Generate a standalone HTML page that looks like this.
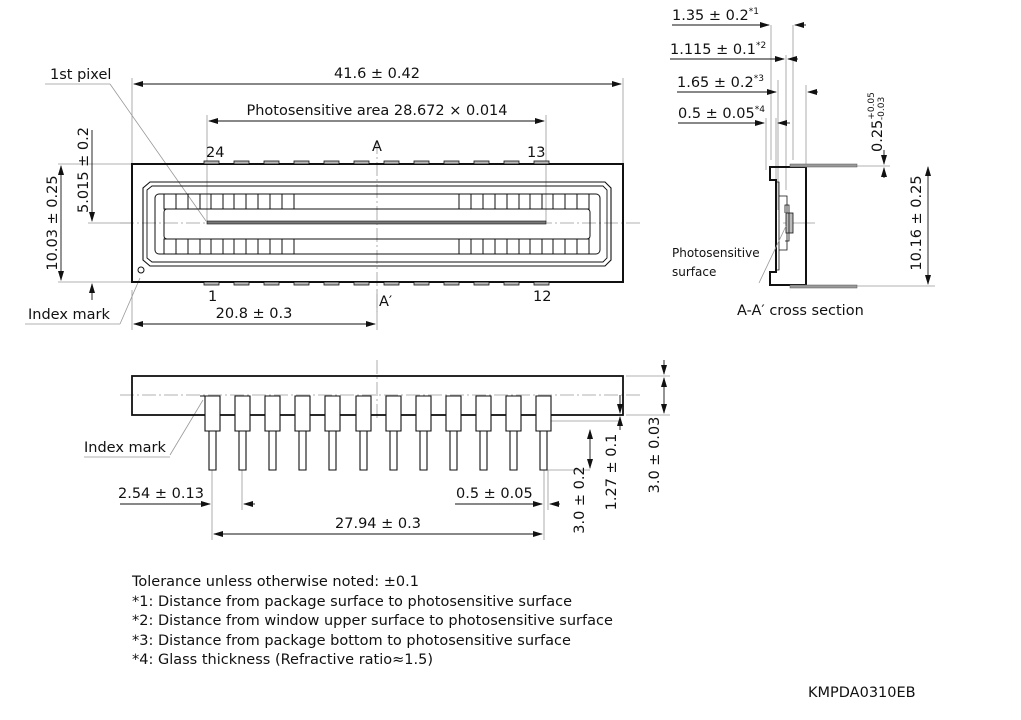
<!DOCTYPE html><html><head><style>body{margin:0;background:#fff}svg{display:block}text{font-family:"DejaVu Sans","Liberation Sans",sans-serif;font-size:14.5px;fill:#111}</style></head><body>
<svg width="1021" height="720" viewBox="0 0 1021 720">
<defs><marker id="a" markerWidth="10" markerHeight="6" refX="9" refY="3" orient="auto-start-reverse" markerUnits="userSpaceOnUse"><path d="M0,0L10,3L0,6z" fill="#111"/></marker></defs>
<g stroke="#999" stroke-width="0.8" fill="none">
<path d="M132 78V164M623 78V164M207 115V222M546 115V222M58 164H132M58 282H132M88 223H132M132 290V330M377 290V330"/>
<path d="M110 84L206 221M120 324L140 278M45 84H110M25 324H120"/>
<path d="M120 223H640M377 140V312" stroke-dasharray="14 3 2 3"/>
<path d="M771 25V160M793 25V160M786 55V190M778 80V210M806 85V165M766 118V170M776 118V180M857 166H890M857 286H935M783 223H815"/>
<path d="M626 376H670M626 415H670M545 421H620M545 470H590M212 470V540M242 470V510M544 470V540M548 470V510"/>
<path d="M120 395H640M377 360V420" stroke-dasharray="14 3 2 3"/>
<path d="M170 455L203 400M84 457H170"/>
</g>
<g stroke="#111" stroke-width="0.9" fill="none">
<line x1="134" y1="84" x2="621" y2="84" marker-start="url(#a)" marker-end="url(#a)"/>
<line x1="209" y1="121" x2="544" y2="121" marker-start="url(#a)" marker-end="url(#a)"/>
<line x1="61" y1="166" x2="61" y2="280" marker-start="url(#a)" marker-end="url(#a)"/>
<line x1="92" y1="130" x2="92" y2="221" marker-end="url(#a)"/>
<line x1="92" y1="300" x2="92" y2="284" marker-end="url(#a)"/>
<line x1="134" y1="324" x2="375" y2="324" marker-start="url(#a)" marker-end="url(#a)"/>
<line x1="672" y1="25" x2="769" y2="25" marker-end="url(#a)"/><line x1="806" y1="25" x2="795" y2="25" marker-end="url(#a)"/>
<line x1="670" y1="59" x2="784" y2="59" marker-end="url(#a)"/><line x1="798" y1="59" x2="788" y2="59" marker-end="url(#a)"/>
<line x1="677" y1="92" x2="776" y2="92" marker-end="url(#a)"/><line x1="818" y1="92" x2="808" y2="92" marker-end="url(#a)"/>
<line x1="678" y1="123" x2="764" y2="123" marker-end="url(#a)"/><line x1="790" y1="123" x2="778" y2="123" marker-end="url(#a)"/>
<line x1="884" y1="150" x2="884" y2="164" marker-end="url(#a)"/><line x1="884" y1="178" x2="884" y2="168" marker-end="url(#a)"/>
<line x1="928" y1="167" x2="928" y2="284" marker-start="url(#a)" marker-end="url(#a)"/>
<line x1="664" y1="378" x2="664" y2="413" marker-start="url(#a)" marker-end="url(#a)"/>
<line x1="664" y1="360" x2="664" y2="374" marker-end="url(#a)"/>
<line x1="620" y1="395" x2="620" y2="413" marker-end="url(#a)"/>
<line x1="620" y1="430" x2="620" y2="417" marker-end="url(#a)"/>
<line x1="590" y1="430" x2="590" y2="468" marker-start="url(#a)" marker-end="url(#a)"/>
<line x1="120" y1="504" x2="210" y2="504" marker-end="url(#a)"/><line x1="255" y1="504" x2="244" y2="504" marker-end="url(#a)"/>
<line x1="455" y1="504" x2="542" y2="504" marker-end="url(#a)"/><line x1="560" y1="504" x2="550" y2="504" marker-end="url(#a)"/>
<line x1="214" y1="534" x2="542" y2="534" marker-start="url(#a)" marker-end="url(#a)"/>
</g>
<g stroke="#111" fill="none">
<rect x="132" y="164" width="491" height="118" stroke-width="2"/>
<path d="M150 182H605L611 188V260L605 266H150L143 260V188Z" stroke-width="1.1"/>
<path d="M152 186H603L607 190V258L603 262H152L147 258V190Z" stroke-width="0.9"/>
<rect x="155" y="194" width="445" height="60" rx="4" stroke-width="1"/>
<rect x="164" y="209" width="426" height="30" rx="3" stroke-width="1"/>
<circle cx="141" cy="270" r="3" stroke-width="1"/>
</g>
<rect x="207" y="221" width="339" height="3" fill="#777" stroke="#111" stroke-width="0.6"/>
<g stroke="#111" fill="none" stroke-width="1">
<path d="M164 194h12v15h-12zM188 194h12v15h-12zM211 194h12v15h-12zM234 194h12v15h-12zM258 194h12v15h-12zM282 194h12v15h-12zM459 194h12v15h-12zM483 194h12v15h-12zM507 194h12v15h-12zM530 194h12v15h-12zM553 194h12v15h-12zM577 194h12v15h-12z"/>
<path d="M164 239h12v15h-12zM188 239h12v15h-12zM211 239h12v15h-12zM234 239h12v15h-12zM258 239h12v15h-12zM282 239h12v15h-12zM459 239h12v15h-12zM483 239h12v15h-12zM507 239h12v15h-12zM530 239h12v15h-12zM553 239h12v15h-12zM577 239h12v15h-12z"/>
</g>
<g fill="#bbb" stroke="#111" stroke-width="0.8">
<rect x="204" y="161" width="15" height="3"/><rect x="234" y="161" width="15" height="3"/><rect x="264" y="161" width="15" height="3"/><rect x="294" y="161" width="15" height="3"/><rect x="324" y="161" width="15" height="3"/><rect x="354" y="161" width="15" height="3"/><rect x="384" y="161" width="15" height="3"/><rect x="414" y="161" width="15" height="3"/><rect x="444" y="161" width="15" height="3"/><rect x="474" y="161" width="15" height="3"/><rect x="504" y="161" width="15" height="3"/><rect x="534" y="161" width="15" height="3"/>
<rect x="204" y="282" width="15" height="3"/><rect x="234" y="282" width="15" height="3"/><rect x="264" y="282" width="15" height="3"/><rect x="294" y="282" width="15" height="3"/><rect x="324" y="282" width="15" height="3"/><rect x="354" y="282" width="15" height="3"/><rect x="384" y="282" width="15" height="3"/><rect x="414" y="282" width="15" height="3"/><rect x="444" y="282" width="15" height="3"/><rect x="474" y="282" width="15" height="3"/><rect x="504" y="282" width="15" height="3"/><rect x="534" y="282" width="15" height="3"/>
</g>
<g stroke="#111" fill="none">
<path d="M770 167H806V285H770V272H776V180H770Z" stroke-width="2"/>
<path d="M776 182H779V270H776M779 196H787V250H779" stroke-width="0.8"/>
</g>
<rect x="786" y="213" width="7" height="20" fill="#bbb" stroke="#111" stroke-width="0.8"/>
<path d="M785 213V205H789V241H785" stroke="#111" fill="none" stroke-width="0.8"/>
<path d="M759 283L786 226" stroke="#999" stroke-width="0.8"/>
<rect x="790" y="164" width="67" height="3" fill="#999" stroke="#555" stroke-width="0.5"/>
<rect x="790" y="285" width="67" height="3" fill="#999" stroke="#555" stroke-width="0.5"/>
<rect x="132" y="376" width="491" height="39" fill="none" stroke="#111" stroke-width="1.8"/>
<g fill="#fff" stroke="#111" stroke-width="1.1">
<path d="M205 396h15v35h-15zM235 396h15v35h-15zM265 396h15v35h-15zM295 396h15v35h-15zM325 396h15v35h-15zM356 396h15v35h-15zM386 396h15v35h-15zM416 396h15v35h-15zM446 396h15v35h-15zM476 396h15v35h-15zM506 396h15v35h-15zM536 396h15v35h-15z"/>
<path d="M209 431h7v39h-7zM239 431h7v39h-7zM269 431h7v39h-7zM299 431h7v39h-7zM329 431h7v39h-7zM360 431h7v39h-7zM390 431h7v39h-7zM420 431h7v39h-7zM450 431h7v39h-7zM480 431h7v39h-7zM510 431h7v39h-7zM540 431h7v39h-7z"/>
</g>
<path d="M200 396h5v8" stroke="#111" fill="none"/>
<text x="50" y="79">1st pixel</text>
<text x="377" y="78" text-anchor="middle">41.6 ± 0.42</text>
<text x="377" y="115" text-anchor="middle">Photosensitive area 28.672 × 0.014</text>
<text x="206" y="157">24</text><text x="372" y="151">A</text><text x="527" y="157">13</text>
<text x="208" y="301">1</text><text x="379" y="306">A′</text><text x="533" y="301">12</text>
<text x="28" y="319">Index mark</text>
<text x="254" y="318" text-anchor="middle">20.8 ± 0.3</text>
<text transform="translate(57,223) rotate(-90)" text-anchor="middle">10.03 ± 0.25</text>
<text transform="translate(88,170) rotate(-90)" text-anchor="middle">5.015 ± 0.2</text>
<text x="672" y="20">1.35 ± 0.2<tspan font-size="9" dy="-6">*1</tspan></text>
<text x="670" y="54">1.115 ± 0.1<tspan font-size="9" dy="-6">*2</tspan></text>
<text x="677" y="87">1.65 ± 0.2<tspan font-size="9" dy="-6">*3</tspan></text>
<text x="678" y="118">0.5 ± 0.05<tspan font-size="9" dy="-6">*4</tspan></text>
<text transform="translate(882,152) rotate(-90)">0.25<tspan font-size="9" dy="-8">+0.05</tspan><tspan font-size="9" dx="-28" dy="10">-0.03</tspan></text>
<text transform="translate(921,223) rotate(-90)" text-anchor="middle">10.16 ± 0.25</text>
<text x="672" y="257" style="font-size:12px">Photosensitive</text>
<text x="672" y="276" style="font-size:12px">surface</text>
<text x="737" y="315">A-A′ cross section</text>
<text x="84" y="452">Index mark</text>
<text x="118" y="498">2.54 ± 0.13</text>
<text x="456" y="498">0.5 ± 0.05</text>
<text x="378" y="528" text-anchor="middle">27.94 ± 0.3</text>
<text transform="translate(584,500) rotate(-90)" text-anchor="middle">3.0 ± 0.2</text>
<text transform="translate(616,472) rotate(-90)" text-anchor="middle">1.27 ± 0.1</text>
<text transform="translate(659,455) rotate(-90)" text-anchor="middle">3.0 ± 0.03</text>
<text x="132" y="586">Tolerance unless otherwise noted: ±0.1</text>
<text x="132" y="606">*1: Distance from package surface to photosensitive surface</text>
<text x="132" y="625">*2: Distance from window upper surface to photosensitive surface</text>
<text x="132" y="645">*3: Distance from package bottom to photosensitive surface</text>
<text x="132" y="664">*4: Glass thickness (Refractive ratio≈1.5)</text>
<text x="808" y="697">KMPDA0310EB</text>
</svg></body></html>
